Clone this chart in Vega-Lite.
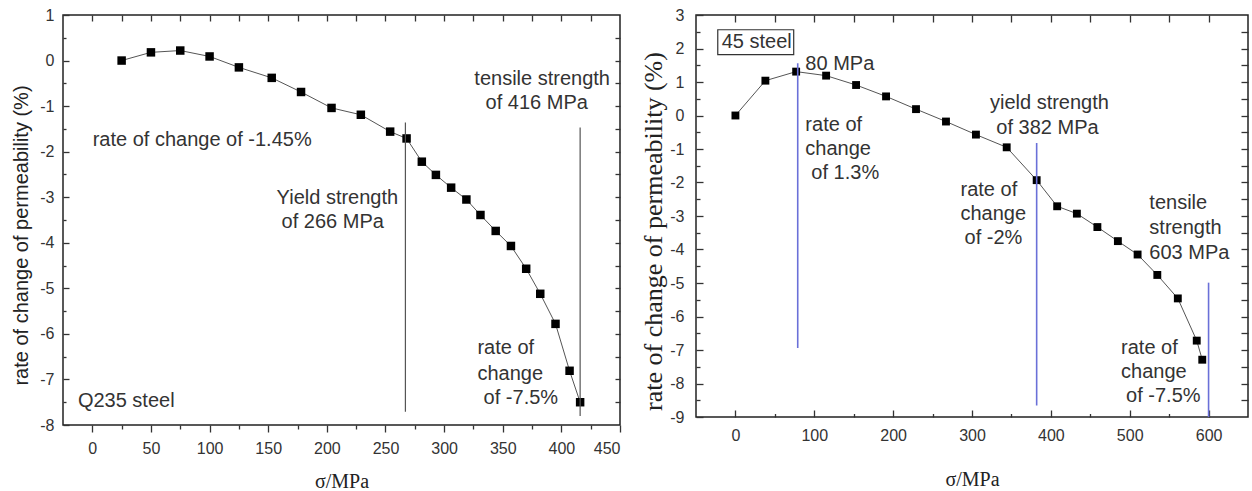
{
  "$schema": "https://vega.github.io/schema/vega-lite/v6.json",
  "padding": {"left": 11, "right": 0, "top": 6, "bottom": 0},
  "background": "white",
  "config": {
    "view": {"stroke": "#222", "strokeWidth": 1.5},
    "axis": {"grid": false, "domain": false, "labelFont": "Liberation Sans", "labelFontSize": 16, "labelColor": "#333", "tickColor": "#333", "tickWidth": 1.3, "titleColor": "#222", "titleFontWeight": "normal"},
    "text": {"font": "Liberation Sans", "fontSize": 20, "color": "#333"}
  },
  "datasets": {
    "q235": [
      {"x": 25, "y": 0}, {"x": 50, "y": 0.18}, {"x": 75, "y": 0.22}, {"x": 100, "y": 0.09},
      {"x": 125, "y": -0.15}, {"x": 153, "y": -0.38}, {"x": 178, "y": -0.69}, {"x": 204, "y": -1.04},
      {"x": 229, "y": -1.19}, {"x": 254, "y": -1.56}, {"x": 268, "y": -1.71}, {"x": 281, "y": -2.22},
      {"x": 293, "y": -2.51}, {"x": 306, "y": -2.79}, {"x": 319, "y": -3.05}, {"x": 331, "y": -3.39},
      {"x": 344, "y": -3.74}, {"x": 357, "y": -4.07}, {"x": 370, "y": -4.57}, {"x": 382, "y": -5.12},
      {"x": 395, "y": -5.78}, {"x": 407, "y": -6.81}, {"x": 416, "y": -7.5}
    ],
    "q235_rules": [
      {"x": 267, "y1": -1.36, "y2": -7.71},
      {"x": 416, "y1": -1.47, "y2": -7.8}
    ],
    "q235_text_left": [
      {"x": 0.3, "y": -1.75, "t": "rate of change of -1.45%"},
      {"x": 328.4, "y": -6.31, "t": "rate of"},
      {"x": 328.4, "y": -6.88, "t": "change"},
      {"x": 333.7, "y": -7.41, "t": "of -7.5%"},
      {"x": -12.3, "y": -7.47, "t": "Q235 steel"}
    ],
    "q235_text_center": [
      {"x": 209, "y": -3.01, "t": "Yield strength"},
      {"x": 205, "y": -3.54, "t": "of 266 MPa"},
      {"x": 383.6, "y": -0.40, "t": "tensile strength"},
      {"x": 379, "y": -0.94, "t": "of 416 MPa"}
    ],
    "s45": [
      {"x": 0, "y": 0}, {"x": 38, "y": 1.04}, {"x": 77, "y": 1.31}, {"x": 115, "y": 1.19},
      {"x": 153, "y": 0.91}, {"x": 191, "y": 0.57}, {"x": 229, "y": 0.19}, {"x": 267, "y": -0.18},
      {"x": 305, "y": -0.57}, {"x": 344, "y": -0.95}, {"x": 382, "y": -1.93}, {"x": 408, "y": -2.71},
      {"x": 433, "y": -2.93}, {"x": 459, "y": -3.33}, {"x": 485, "y": -3.75}, {"x": 510, "y": -4.15},
      {"x": 535, "y": -4.76}, {"x": 561, "y": -5.46}, {"x": 585, "y": -6.72}, {"x": 592, "y": -7.29}
    ],
    "s45_rules": [
      {"x": 79, "y1": 1.56, "y2": -6.94},
      {"x": 382, "y1": -0.82, "y2": -8.66},
      {"x": 600, "y1": -4.99, "y2": -9}
    ],
    "s45_box": [
      {"x": -22.4, "x2": 73.9, "y": 2.56, "y2": 1.82}
    ],
    "s45_text_left": [
      {"x": -17.4, "y": 2.18, "t": "45 steel"},
      {"x": 88.7, "y": 1.54, "t": "80 MPa"},
      {"x": 88.7, "y": -0.28, "t": "rate of"},
      {"x": 88.7, "y": -1.0, "t": "change"},
      {"x": 96.3, "y": -1.72, "t": "of 1.3%"},
      {"x": 285.4, "y": -2.21, "t": "rate of"},
      {"x": 285.4, "y": -2.94, "t": "change"},
      {"x": 290.5, "y": -3.65, "t": "of -2%"},
      {"x": 524.9, "y": -2.61, "t": "tensile"},
      {"x": 524.9, "y": -3.35, "t": "strength"},
      {"x": 524.9, "y": -4.10, "t": "603 MPa"},
      {"x": 489, "y": -6.93, "t": "rate of"},
      {"x": 489, "y": -7.65, "t": "change"},
      {"x": 495.4, "y": -8.36, "t": "of -7.5%"}
    ],
    "s45_text_center": [
      {"x": 398.2, "y": 0.37, "t": "yield strength"},
      {"x": 395.7, "y": -0.36, "t": "of 382 MPa"}
    ]
  },
  "hconcat": [
    {
      "width": 557,
      "height": 410,
      "resolve": {"axis": {"x": "independent", "y": "independent"}},
      "layer": [
        {
          "data": {"name": "q235"},
          "mark": {"type": "line", "color": "#555", "strokeWidth": 1},
          "encoding": {
            "x": {"field": "x", "type": "quantitative", "scale": {"domain": [-25, 450], "nice": false, "zero": false},
                  "axis": {"orient": "bottom", "values": [0, 50, 100, 150, 200, 250, 300, 350, 400, 450], "tickSize": 7, "labelPadding": 8, "title": "σ/MPa", "titleFont": "Liberation Serif", "titleFontSize": 20, "titlePadding": 15}},
            "y": {"field": "y", "type": "quantitative", "scale": {"domain": [-8, 1], "nice": false, "zero": false},
                  "axis": {"orient": "left", "values": [-8, -7, -6, -5, -4, -3, -2, -1, 0, 1], "labelExpr": "toString(datum.value)", "ticks": false, "labelPadding": 9, "title": "rate of change of permeability (%)", "titleFont": "Liberation Sans", "titleFontSize": 20, "titlePadding": 8, "titleY": 220}}
          }
        },
        {
          "data": {"name": "q235"},
          "mark": {"type": "point", "shape": "square", "filled": true, "color": "#000", "size": 72, "opacity": 1},
          "encoding": {
            "x": {"field": "x", "type": "quantitative", "scale": {"domain": [-25, 450], "nice": false, "zero": false},
                  "axis": {"orient": "bottom", "values": [25, 75, 125, 175, 225, 275, 325, 375, 425], "tickSize": 4, "labels": false, "title": null}},
            "y": {"field": "y", "type": "quantitative", "scale": {"domain": [-8, 1], "nice": false, "zero": false},
                  "axis": {"orient": "left", "values": [-8, -7, -6, -5, -4, -3, -2, -1, 0, 1], "tickSize": 6, "offset": -6, "labels": false, "title": null}}
          }
        },
        {
          "data": {"name": "q235_rules"},
          "mark": {"type": "rule", "color": "#555", "strokeWidth": 1.2},
          "encoding": {
            "x": {"field": "x", "type": "quantitative", "scale": {"domain": [-25, 450], "nice": false, "zero": false},
                  "axis": {"orient": "top", "values": [0, 25, 50, 75, 100, 125, 150, 175, 200, 225, 250, 275, 300, 325, 350, 375, 400, 425], "tickSize": 6, "offset": -6, "labels": false, "title": null}},
            "y": {"field": "y1", "type": "quantitative", "scale": {"domain": [-8, 1], "nice": false, "zero": false},
                  "axis": {"orient": "right", "values": [-7.5, -7, -6.5, -6, -5.5, -5, -4.5, -4, -3.5, -3, -2.5, -2, -1.5, -1, -0.5, 0, 0.5], "tickSize": 5, "offset": -5, "labels": false, "title": null}},
            "y2": {"field": "y2"}
          }
        },
        {
          "data": {"name": "q235_text_left"},
          "mark": {"type": "text", "align": "left", "baseline": "middle"},
          "encoding": {
            "x": {"field": "x", "type": "quantitative", "scale": {"domain": [-25, 450], "nice": false, "zero": false}, "axis": null},
            "y": {"field": "y", "type": "quantitative", "scale": {"domain": [-8, 1], "nice": false, "zero": false},
                  "axis": {"orient": "left", "values": [-7.5, -6.5, -5.5, -4.5, -3.5, -2.5, -1.5, -0.5, 0.5], "tickSize": 3, "offset": -3, "labels": false, "title": null}},
            "text": {"field": "t"}
          }
        },
        {
          "data": {"name": "q235_text_center"},
          "mark": {"type": "text", "align": "center", "baseline": "middle"},
          "encoding": {
            "x": {"field": "x", "type": "quantitative", "scale": {"domain": [-25, 450], "nice": false, "zero": false}, "axis": null},
            "y": {"field": "y", "type": "quantitative", "scale": {"domain": [-8, 1], "nice": false, "zero": false}, "axis": null},
            "text": {"field": "t"}
          }
        }
      ]
    },
    {
      "width": 552,
      "height": 402,
      "resolve": {"axis": {"x": "independent", "y": "independent"}},
      "layer": [
        {
          "data": {"name": "s45"},
          "mark": {"type": "line", "color": "#555", "strokeWidth": 1},
          "encoding": {
            "x": {"field": "x", "type": "quantitative", "scale": {"domain": [-50, 650], "nice": false, "zero": false},
                  "axis": {"orient": "bottom", "values": [0, 100, 200, 300, 400, 500, 600], "ticks": false, "labelPadding": 10, "title": "σ/MPa", "titleFont": "Liberation Serif", "titleFontSize": 20, "titlePadding": 26}},
            "y": {"field": "y", "type": "quantitative", "scale": {"domain": [-9, 3], "nice": false, "zero": false},
                  "axis": {"orient": "left", "values": [-9, -8, -7, -6, -5, -4, -3, -2, -1, 0, 1, 2, 3], "labelExpr": "toString(datum.value)", "ticks": false, "labelPadding": 12, "title": "rate of change of permeability (%)", "titleFont": "Liberation Serif", "titleFontSize": 26, "titlePadding": 3, "titleY": 216}}
          }
        },
        {
          "data": {"name": "s45"},
          "mark": {"type": "point", "shape": "square", "filled": true, "color": "#000", "size": 62, "opacity": 1},
          "encoding": {
            "x": {"field": "x", "type": "quantitative", "scale": {"domain": [-50, 650], "nice": false, "zero": false},
                  "axis": {"orient": "bottom", "values": [0, 100, 200, 300, 400, 500, 600], "tickSize": 7, "offset": -7, "labels": false, "title": null}},
            "y": {"field": "y", "type": "quantitative", "scale": {"domain": [-9, 3], "nice": false, "zero": false},
                  "axis": {"orient": "left", "values": [-9, -8, -7, -6, -5, -4, -3, -2, -1, 0, 1, 2, 3], "tickSize": 7, "offset": -7, "labels": false, "title": null}}
          }
        },
        {
          "data": {"name": "s45_rules"},
          "mark": {"type": "rule", "color": "#6a70d8", "strokeWidth": 1.6},
          "encoding": {
            "x": {"field": "x", "type": "quantitative", "scale": {"domain": [-50, 650], "nice": false, "zero": false},
                  "axis": {"orient": "top", "values": [0, 50, 100, 150, 200, 250, 300, 350, 400, 450, 500, 550, 600], "tickSize": 7, "offset": -7, "labels": false, "title": null}},
            "y": {"field": "y1", "type": "quantitative", "scale": {"domain": [-9, 3], "nice": false, "zero": false},
                  "axis": {"orient": "right", "values": [-8.5, -8, -7.5, -7, -6.5, -6, -5.5, -5, -4.5, -4, -3.5, -3, -2.5, -2, -1.5, -1, -0.5, 0, 0.5, 1, 1.5, 2, 2.5], "tickSize": 7, "offset": -7, "labels": false, "title": null}},
            "y2": {"field": "y2"}
          }
        },
        {
          "data": {"name": "s45_text_left"},
          "mark": {"type": "text", "align": "left", "baseline": "middle"},
          "encoding": {
            "x": {"field": "x", "type": "quantitative", "scale": {"domain": [-50, 650], "nice": false, "zero": false},
                  "axis": {"orient": "bottom", "values": [50, 150, 250, 350, 450, 550], "tickSize": 3.5, "offset": -3.5, "labels": false, "title": null}},
            "y": {"field": "y", "type": "quantitative", "scale": {"domain": [-9, 3], "nice": false, "zero": false},
                  "axis": {"orient": "left", "values": [-8.5, -7.5, -6.5, -5.5, -4.5, -3.5, -2.5, -1.5, -0.5, 0.5, 1.5, 2.5], "tickSize": 4, "offset": -4, "labels": false, "title": null}},
            "text": {"field": "t"}
          }
        },
        {
          "data": {"name": "s45_text_center"},
          "mark": {"type": "text", "align": "center", "baseline": "middle"},
          "encoding": {
            "x": {"field": "x", "type": "quantitative", "scale": {"domain": [-50, 650], "nice": false, "zero": false}, "axis": null},
            "y": {"field": "y", "type": "quantitative", "scale": {"domain": [-9, 3], "nice": false, "zero": false}, "axis": null},
            "text": {"field": "t"}
          }
        },
        {
          "data": {"name": "s45_box"},
          "mark": {"type": "rect", "fill": null, "filled": false, "stroke": "#333", "strokeWidth": 1.2},
          "encoding": {
            "x": {"field": "x", "type": "quantitative", "scale": {"domain": [-50, 650], "nice": false, "zero": false}, "axis": null},
            "x2": {"field": "x2"},
            "y": {"field": "y", "type": "quantitative", "scale": {"domain": [-9, 3], "nice": false, "zero": false}, "axis": null},
            "y2": {"field": "y2"}
          }
        }
      ]
    }
  ],
  "spacing": 18
}
